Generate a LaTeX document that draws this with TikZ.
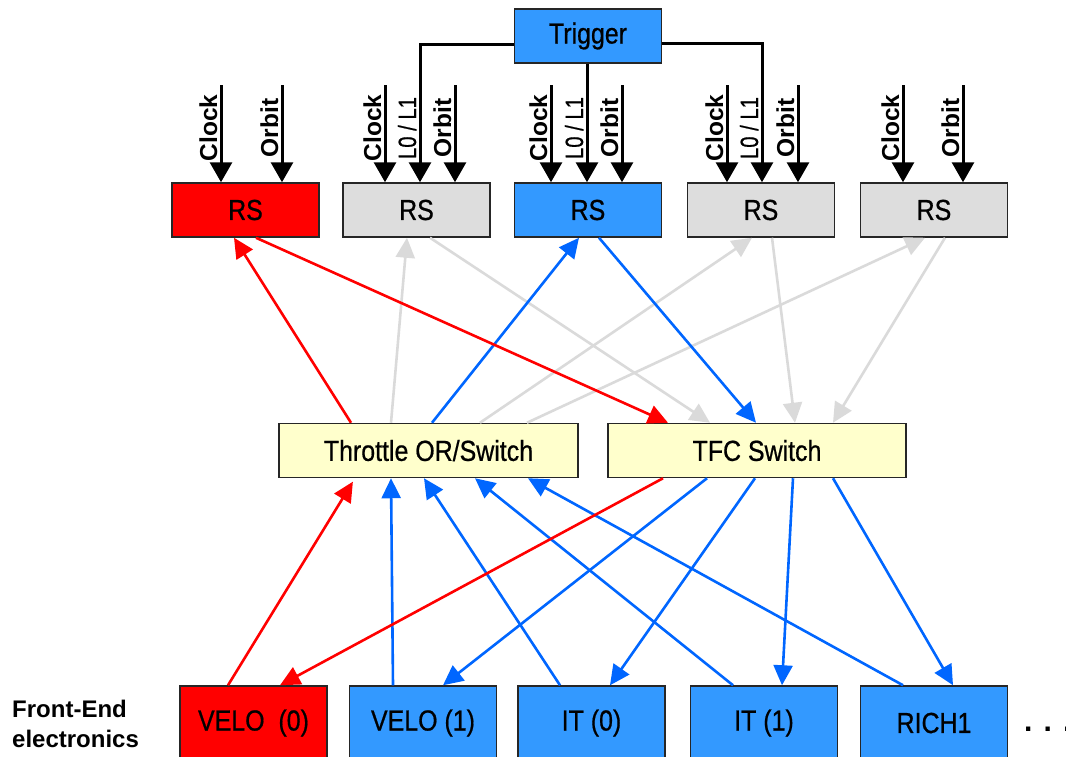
\documentclass[tikz,border=0pt]{standalone}
\usepackage{fontspec}
\usepackage{graphicx}
\setmainfont{Liberation Sans}
\newfontfamily\boxfont[FakeBold=0.7]{Liberation Sans}
\usetikzlibrary{arrows.meta}

\definecolor{hotred}{HTML}{FF0000}
\definecolor{boxblue}{HTML}{3399FF}
\definecolor{linkblue}{HTML}{0066FF}
\definecolor{boxgray}{HTML}{DDDDDD}
\definecolor{linkgray}{HTML}{DADADA}
\definecolor{paleyellow}{HTML}{FFFFCC}

% box labels are set slightly condensed
\newcommand{\cond}[1]{\scalebox{0.86}[1]{#1}}

\begin{document}
\begin{tikzpicture}[x=1pt, y=-1pt,
  box/.style={draw=black!85, line width=1.5pt, minimum width=147pt,
    minimum height=54pt, inner sep=0pt, font=\fontsize{29}{32}\boxfont},
  febox/.style={box, minimum height=74pt},
  vlab/.style={rotate=90, anchor=base, inner sep=0pt,
    font=\fontsize{24.5}{26}\selectfont\bfseries},
  vlabreg/.style={rotate=90, anchor=base, inner sep=0pt,
    font=\fontsize{25}{27}\boxfont},
  sig/.style={draw=black, line width=3pt, -{Triangle[length=20pt,width=22pt]}},
  trigline/.style={sig},
  link/.style={line width=2.6pt, -{Triangle[length=20pt,width=19pt]}},
  glink/.style={link, draw=linkgray, fill=linkgray},
  blink/.style={link, draw=linkblue, fill=linkblue},
  rlink/.style={link, draw=hotred, fill=hotred}]

\useasboundingbox (0,0) rectangle (1066,756);

% ---------- trigger and readout supervisors ----------
\node[box, fill=boxblue] (trig) at (588,36) {\cond{Trigger}};

\node[box, fill=hotred]  (rs1) at (245.5,210) {\cond{RS}};
\node[box, fill=boxgray] (rs2) at (416.5,210) {\cond{RS}};
\node[box, fill=boxblue] (rs3) at (588,210)   {\cond{RS}};
\node[box, fill=boxgray] (rs4) at (761,210)   {\cond{RS}};
\node[box, fill=boxgray] (rs5) at (934,210)   {\cond{RS}};

% ---------- switches ----------
\node[box, fill=paleyellow, minimum width=299pt] (thr) at (428.5,450.5) {\cond{Throttle OR/Switch}};
\node[box, fill=paleyellow, minimum width=298pt] (tfc) at (757,450.5)   {\cond{TFC Switch}};

% ---------- front-end electronics ----------
\node[febox, fill=hotred]  (v0)   at (253.5,723) {\cond{VELO\ \ (0)}};
\node[febox, fill=boxblue] (v1)   at (423,723)   {\cond{VELO (1)}};
\node[febox, fill=boxblue] (it0)  at (591.5,723) {\cond{IT (0)}};
\node[febox, fill=boxblue] (it1)  at (764,723)   {\cond{IT (1)}};
\node[febox, fill=boxblue] (rich) at (934,723)   {\cond{RICH1}};

\node[anchor=west, inner sep=0pt, align=left,
      font=\fontsize{24}{30}\selectfont\bfseries] (fe) at (12,724)
      {Front-End\\electronics};
\node[anchor=base west, inner sep=0pt,
      font=\fontsize{30}{32}\selectfont\bfseries] (more) at (1024,731) {. . .};

% ---------- clock, orbit and trigger inputs ----------
\coordinate (clk1) at (221,85);  \coordinate (orb1) at (282,85);
\coordinate (clk2) at (385,85);  \coordinate (orb2) at (455,85);
\coordinate (clk3) at (551,85);  \coordinate (orb3) at (622,85);
\coordinate (clk4) at (727,85);  \coordinate (orb4) at (798,85);
\coordinate (clk5) at (903,85);  \coordinate (orb5) at (963,85);

\draw[sig] (clk1) -- (clk1 |- rs1.north);
\draw[sig] (orb1) -- (orb1 |- rs1.north);
\draw[sig] (clk2) -- (clk2 |- rs2.north);
\draw[sig] (orb2) -- (orb2 |- rs2.north);
\draw[sig] (clk3) -- (clk3 |- rs3.north);
\draw[sig] (orb3) -- (orb3 |- rs3.north);
\draw[sig] (clk4) -- (clk4 |- rs4.north);
\draw[sig] (orb4) -- (orb4 |- rs4.north);
\draw[sig] (clk5) -- (clk5 |- rs5.north);
\draw[sig] (orb5) -- (orb5 |- rs5.north);

\draw[trigline] ([yshift=-8pt]trig.west) -| ([xshift=3.5pt]rs2.north);
\draw[trigline] ([xshift=-1pt]trig.south) -- ([xshift=-1pt]rs3.north);
\draw[trigline] ([yshift=-7pt]trig.east) -| ([xshift=1pt]rs4.north);

\node[vlab] (lc1) at (217,128) {Clock};
\node[vlab] (lo1) at (278,128) {Orbit};
\node[vlab] (lc2) at (381,128) {Clock};
\node[vlabreg] (lt2) at (416,128) {\scalebox{0.81}[1]{L0 / L1}};
\node[vlab] (lo2) at (451,128) {Orbit};
\node[vlab] (lc3) at (547,128) {Clock};
\node[vlabreg] (lt3) at (583,128) {\scalebox{0.81}[1]{L0 / L1}};
\node[vlab] (lo3) at (618,128) {Orbit};
\node[vlab] (lc4) at (723,128) {Clock};
\node[vlabreg] (lt4) at (758,128) {\scalebox{0.81}[1]{L0 / L1}};
\node[vlab] (lo4) at (794,128) {Orbit};
\node[vlab] (lc5) at (899,128) {Clock};
\node[vlab] (lo5) at (959,128) {Orbit};

% ---------- switches <-> readout supervisors ----------
\draw[glink] ([xshift=-37.5pt]thr.north) -- ([xshift=-9.5pt]rs2.south);
\draw[glink] ([xshift=13.5pt]rs2.south) -- ([xshift=-47pt]tfc.north);
\draw[glink] ([xshift=51.5pt]thr.north) -- ([xshift=-9pt]rs4.south);
\draw[glink] ([xshift=11pt]rs4.south) -- ([xshift=38pt]tfc.north);
\draw[glink] ([xshift=98.5pt]thr.north) -- ([xshift=-9pt]rs5.south);
\draw[glink] ([xshift=11pt]rs5.south) -- ([xshift=76pt]tfc.north);

\draw[blink] ([xshift=3.5pt]thr.north) -- ([xshift=-9pt]rs3.south);
\draw[blink] ([xshift=11pt]rs3.south) -- ([xshift=-1pt]tfc.north);

\draw[rlink] ([xshift=-77.5pt]thr.north) -- ([xshift=-11.5pt]rs1.south);
\draw[rlink] ([xshift=10.5pt]rs1.south) -- ([xshift=-89pt]tfc.north);

% ---------- front-end <-> switches ----------
\draw[blink] ([xshift=-30pt]v1.north) -- ([xshift=-37.5pt]thr.south);
\draw[blink] ([xshift=-50pt]tfc.south) -- ([xshift=20pt]v1.north);
\draw[blink] ([xshift=-31.5pt]it0.north) -- ([xshift=-4.5pt]thr.south);
\draw[blink] ([xshift=-2pt]tfc.south) -- ([xshift=18.5pt]it0.north);
\draw[blink] ([xshift=-31pt]it1.north) -- ([xshift=46.5pt]thr.south);
\draw[blink] ([xshift=36pt]tfc.south) -- ([xshift=18pt]it1.north);
\draw[blink] ([xshift=-31pt]rich.north) -- ([xshift=99.5pt]thr.south);
\draw[blink] ([xshift=76pt]tfc.south) -- ([xshift=19pt]rich.north);

\draw[rlink, shorten >=4pt] ([xshift=-25.5pt]v0.north) -- ([xshift=-73.5pt]thr.south);
\draw[rlink] ([xshift=-94pt]tfc.south) -- ([xshift=26.5pt]v0.north);

\end{tikzpicture}
\end{document}
